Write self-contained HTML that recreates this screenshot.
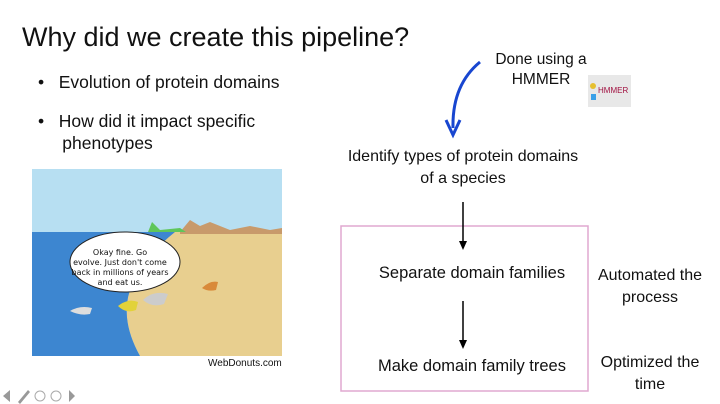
<!DOCTYPE html>
<html><head><style>
body{margin:0;width:720px;height:404px;background:#fff;position:relative;overflow:hidden;font-family:"Liberation Sans","DejaVu Sans",sans-serif;color:#111}
.t{position:absolute;white-space:nowrap}
</style></head><body>
<div class="t" style="left:22px;top:22px;font-size:27px">Why did we create this pipeline?</div>
<div class="t" style="left:38px;top:72px;font-size:17.5px">•&nbsp;&nbsp;&nbsp;Evolution of protein domains</div>
<div class="t" style="left:38px;top:110px;font-size:17.5px;line-height:22px">•&nbsp;&nbsp;&nbsp;How did it impact specific<br>&nbsp;&nbsp;&nbsp;&nbsp;&nbsp;phenotypes</div>
<svg style="position:absolute;left:0;top:0" width="720" height="404">
<rect x="32" y="169" width="250" height="187" fill="#b7dff2"/>
<path d="M32 232 L282 232 L282 356 L140 356 Q120 320 130 290 Q140 260 160 240 L175 232Z" fill="#e8cf8f"/>
<path d="M32 232 L175 232 Q140 260 130 290 Q120 320 140 356 L32 356Z" fill="#3d86d0"/>
<path d="M180 232 L190 220 L200 226 L210 222 L230 230 L250 226 L270 230 L282 228 L282 234 L180 234Z" fill="#c89a6b"/>
<path d="M148 232 L152 222 L160 230 L180 228 L186 232Z" fill="#5fc65a"/>
<ellipse cx="125" cy="262" rx="55" ry="30" fill="#fff" stroke="#222"/>
<path d="M118 306 q10 -8 20 -4 l-2 8 q-10 4 -18 -4z" fill="#e2d23a"/>
<path d="M143 300 q10 -10 25 -6 l-4 10 q-12 4 -21 -4z" fill="#ccc"/>
<path d="M202 288 q8 -8 16 -6 l-2 8 q-8 2 -14 -2z" fill="#d98a3a"/>
<path d="M70 311 q10 -6 22 -3 l-2 6 q-10 2 -20 -3z" fill="#ddd"/>
<rect x="341" y="226" width="247" height="165" fill="none" stroke="#e0a8d0" stroke-width="1.5"/>
<path d="M463 202 V243" stroke="#000" stroke-width="1.5"/><path d="M459 241 L463 250 L467 241Z" fill="#000"/>
<path d="M463 301 V342" stroke="#000" stroke-width="1.5"/><path d="M459 340 L463 349 L467 340Z" fill="#000"/>
<path d="M480 62 Q452 85 453 128" stroke="#1846d0" stroke-width="3" fill="none"/>
<path d="M446 120 L453 135 L460 120" stroke="#1846d0" stroke-width="3" fill="none"/>
<rect x="588" y="75" width="43" height="32" fill="#e8e8e8"/>
<circle cx="593" cy="86" r="3" fill="#e6c030"/><rect x="591" y="94" width="5" height="6" fill="#3aa0e8"/>
<text x="598" y="93" font-size="8" fill="#a01040" font-family="Liberation Sans">HMMER</text>
<g fill="#999"><path d="M3 396 l7 -6 v12z M14 396 l-3 0"/><circle cx="40" cy="396" r="5" fill="none" stroke="#aaa"/><circle cx="56" cy="396" r="5" fill="none" stroke="#aaa"/><path d="M75 396 l-6 -6 v12z"/><path d="M18 402 l10 -12 l2 2 l-10 12z"/></g>
</svg>
<div class="t" style="left:208px;top:358px;font-size:10px">WebDonuts.com</div>
<div class="t" style="left:120px;top:248px;font-size:8px;line-height:10px;text-align:center;transform:translateX(-50%);font-family:'DejaVu Sans'">Okay fine. Go<br>evolve. Just don't come<br>back in millions of years<br>and eat us.</div>
<div class="t" style="left:541px;top:50px;font-size:15.5px;line-height:20px;text-align:center;transform:translateX(-50%)">Done using a<br>HMMER</div>
<div class="t" style="left:463px;top:146px;font-size:16px;line-height:22px;text-align:center;transform:translateX(-50%)">Identify types of protein domains<br>of a species</div>
<div class="t" style="left:472px;top:264px;font-size:16.5px;transform:translateX(-50%)">Separate domain families</div>
<div class="t" style="left:472px;top:357px;font-size:16.5px;transform:translateX(-50%)">Make domain family trees</div>
<div class="t" style="left:650px;top:265px;font-size:16px;line-height:22px;text-align:center;transform:translateX(-50%)">Automated the<br>process</div>
<div class="t" style="left:650px;top:352px;font-size:16px;line-height:22px;text-align:center;transform:translateX(-50%)">Optimized the<br>time</div>
</body></html>
